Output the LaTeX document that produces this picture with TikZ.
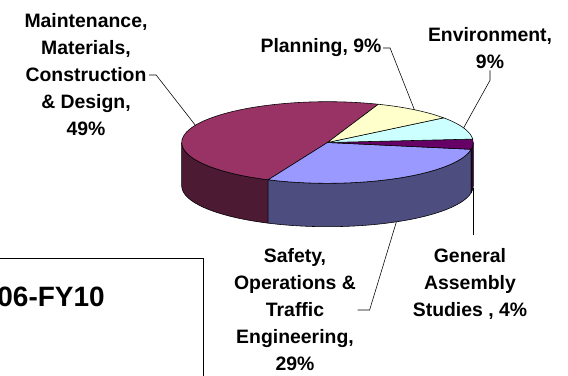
\documentclass[tikz,border=0pt]{standalone}
\usepackage{fontspec}
\setmainfont{Liberation Sans}
\usetikzlibrary{calc}
\definecolor{mntTop}{HTML}{993366}
\definecolor{mntSide}{HTML}{4D1A33}
\definecolor{plnTop}{HTML}{FFFFCC}
\definecolor{envTop}{HTML}{CCFFFF}
\definecolor{gasTop}{HTML}{660066}
\definecolor{gasSide}{HTML}{330033}
\definecolor{safTop}{HTML}{9999FF}
\definecolor{safSide}{HTML}{4D4D80}
\newcommand{\piex}{145.8}
\newcommand{\piey}{40.8}
\newcommand{\pieh}{43.4}
\begin{document}
\begin{tikzpicture}[
        x = 0.025cm, y = 0.025cm,
        every node/.style = {font = \bfseries\fontsize{13.8}{19.2}\selectfont, align = center, inner sep = 1pt},
        slice/.style = {draw, line width = 0.4pt, line join = round},
        leader/.style = {draw, line width = 0.4pt}
    ]
    \useasboundingbox (0, 0) rectangle (568, 376);
    \clip (0, 0) rectangle (568, 376);

    \coordinate (c) at (327.5, 233.5);
    \foreach \a/\b/\col in {180/246/mntSide, 246/350.4/safSide, 350.4/360/gasSide}
        \filldraw [slice, fill = \col]
            ($(c) + (\a:{\piex} and {\piey})$) arc [start angle = \a, end angle = \b, x radius = \piex, y radius = \piey]
            -- ++(0, -\pieh) arc [start angle = \b, end angle = \a, x radius = \piex, y radius = \piey] -- cycle;
    \foreach \a/\b/\col in {69.6/246/mntTop, 246/350.4/safTop, 350.4/364.8/gasTop, 4.8/37.2/envTop, 37.2/69.6/plnTop}
        \filldraw [slice, fill = \col]
            (c) -- ($(c) + (\a:{\piex} and {\piey})$) arc [start angle = \a, end angle = \b, x radius = \piex, y radius = \piey] -- cycle;

    \coordinate (mpt) at ($(c) + (155:{\piex} and {\piey})$);
    \coordinate (ppt) at ($(c) + (53.4:{\piex} and {\piey})$);
    \coordinate (ept) at ($(c) + (21:{\piex} and {\piey})$);
    \coordinate (gpt) at ($(c) + (-2.6:{\piex} and {\piey}) + (0, -\pieh)$);
    \coordinate (spt) at ($(c) + (298.2:{\piex} and {\piey}) + (0, -\pieh)$);
    \coordinate (gend) at (gpt |- 0, 141);

    \node (mnt) at (86, 301) {Maintenance,\\Materials,\\Construction\\\& Design,\\49\%};
    \node (pln) at (321, 328) {Planning, 9\%};
    \node (env) at (490, 328) {Environment,\\9\%};
    \node (gas) at (470, 92) {General\\Assembly\\Studies , 4\%};
    \node (saf) at (295, 66) {Safety,\\Operations \&\\Traffic\\Engineering,\\29\%};

    \draw [leader] (mnt.east) -- ++(7, 0) -- (mpt);
    \draw [leader] (pln.east) -- ++(7, 0) -- (ppt);
    \draw [leader] (env.south) -- ++(0, -10) -- (ept);
    \draw [leader] (gpt) -- (gend);
    \draw [leader] (saf.east) -- ++(12, 0) -- (spt);

    \draw [line width = 0.7pt] (-10, -10) rectangle (203, 118);
    \node [anchor = east, inner sep = 0pt, font = \bfseries\fontsize{19.9}{24}\selectfont] (yrs) at (105, 79) {06-FY10};
\end{tikzpicture}
\end{document}
